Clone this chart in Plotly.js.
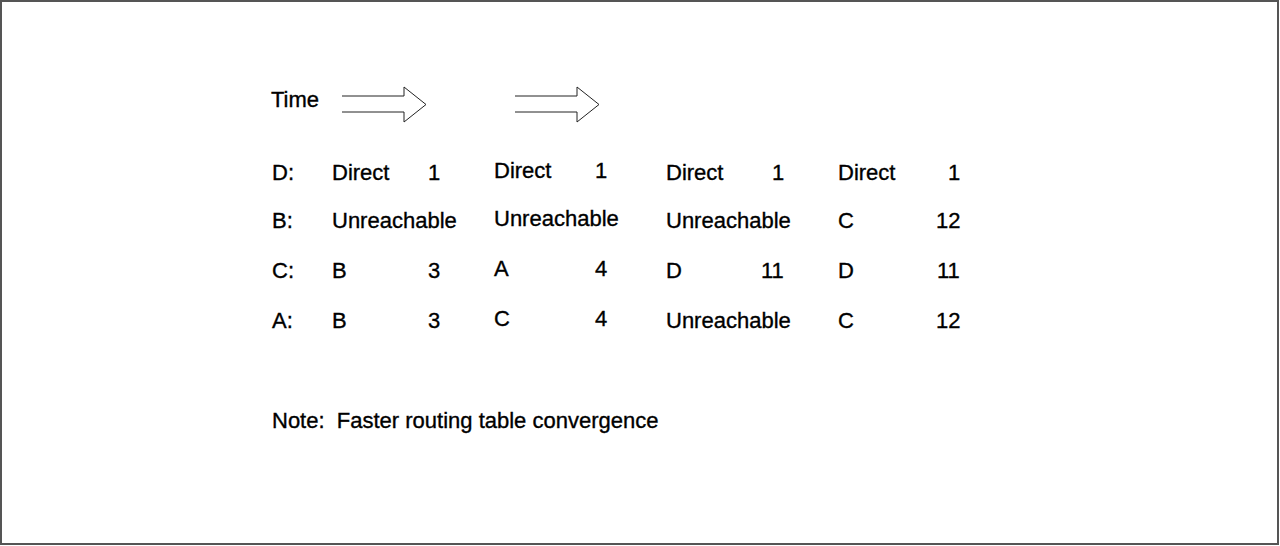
<!DOCTYPE html>
<html>
<head>
<meta charset="utf-8">
<script src="https://cdn.plot.ly/plotly-3.0.1.min.js"></script>
<style>
  html, body { margin: 0; padding: 0; background: #ffffff; }
  #chart { width: 1280px; height: 546px; }
  #chart .annotation-text { stroke: #000000; stroke-width: 0.35px; }
</style>
</head>
<body>
<div id="chart"></div>
<script>
// ---- data ----
const timeLabel = "Time";
const rowLabels = ["D:", "B:", "C:", "A:"];
// next hop per row, one array per time step (column)
const hopsStep1 = ["Direct", "Unreachable", "B", "B"];
const hopsStep2 = ["Direct", "Unreachable", "A", "C"];
const hopsStep3 = ["Direct", "Unreachable", "D", "Unreachable"];
const hopsStep4 = ["Direct", "C", "D", "C"];
// metric per row, one array per time step (null = no metric)
const metricsStep1 = [1, null, 3, 3];
const metricsStep2 = [1, null, 4, 4];
const metricsStep3 = [1, null, 11, null];
const metricsStep4 = [1, 12, 11, 12];
const noteText = "Note:  Faster routing table convergence";

// ---- layout (pixel-space axes) ----
const W = 1280, H = 546;
const rowY = [172, 220, 270, 320];
const labelX = 271;
const colLeft = [331, 493, 665, 837];
const numRight = [441, 608, 785, 961];
const colYShift = [0, -2, 0, 0];
const arrowStartX = [342, 515];
const FONT = { family: "Liberation Sans, Arial, Helvetica, sans-serif", size: 22, color: "#000000" };

const hops = [hopsStep1, hopsStep2, hopsStep3, hopsStep4];
const metrics = [metricsStep1, metricsStep2, metricsStep3, metricsStep4];

const annotations = [];
function addText(text, x, y, anchor) {
  annotations.push({
    text: text, x: x, y: y, xref: "x", yref: "y",
    xanchor: anchor, yanchor: "middle", showarrow: false,
    font: FONT, borderpad: 0
  });
}

addText(timeLabel, 270, 99, "left");
rowLabels.forEach((lbl, r) => addText(lbl, labelX, rowY[r], "left"));
hops.forEach((col, c) => {
  col.forEach((h, r) => addText(h, colLeft[c], rowY[r] + colYShift[c], "left"));
});
metrics.forEach((col, c) => {
  col.forEach((m, r) => {
    if (m !== null) addText(String(m), numRight[c], rowY[r] + colYShift[c], "right");
  });
});
addText(noteText, 271, 420, "left");

const shapes = [];
arrowStartX.forEach(x0 => {
  const xb = x0 + 62, xt = x0 + 84;
  shapes.push({
    type: "path", xref: "x", yref: "y",
    path: `M${x0},96 L${xb},96 L${xb},87 L${xt},104.5 L${xb},122 L${xb},112 L${x0},112`,
    line: { color: "#222222", width: 1 }
  });
});
shapes.push({
  type: "rect", xref: "x", yref: "y", x0: 1, y0: 1, x1: W - 2, y1: H - 2,
  line: { color: "#555555", width: 2 }
});

const layout = {
  width: W, height: H,
  margin: { l: 0, r: 0, t: 0, b: 0, pad: 0 },
  paper_bgcolor: "#ffffff", plot_bgcolor: "#ffffff",
  xaxis: { range: [0, W], visible: false, fixedrange: true },
  yaxis: { range: [H, 0], visible: false, fixedrange: true },
  showlegend: false,
  annotations: annotations,
  shapes: shapes
};

Plotly.newPlot("chart", [{ x: [], y: [], type: "scatter", mode: "markers", hoverinfo: "skip" }], layout,
  { staticPlot: true, displayModeBar: false });
</script>
</body>
</html>
